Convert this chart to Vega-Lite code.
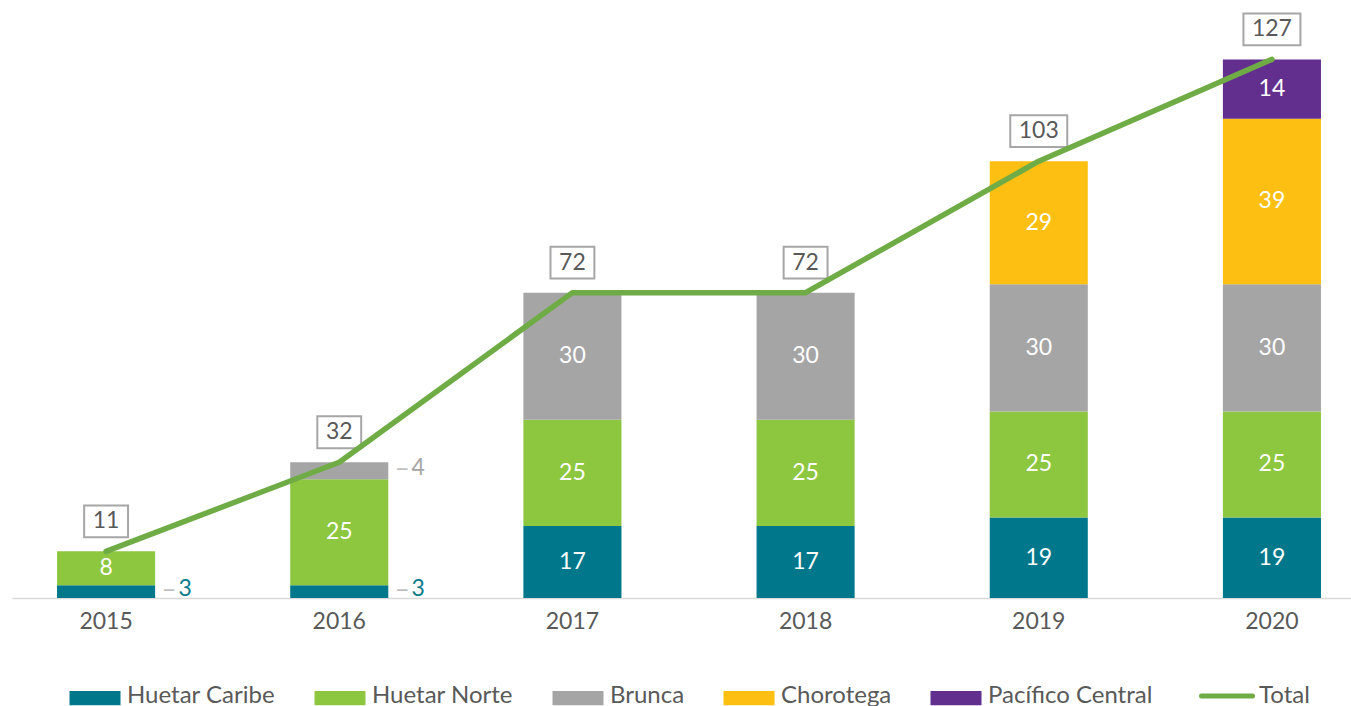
{
  "$schema": "https://vega.github.io/schema/vega-lite/v6.json",
  "width": 1339,
  "height": 598,
  "autosize": {"type": "none"},
  "padding": {"left": 12, "top": 0, "right": 0, "bottom": 108},
  "background": "white",
  "config": {
    "view": {"stroke": null},
    "font": "Lato",
    "axis": {"grid": false}
  },
  "datasets": {
    "bars": [
      {"year": "2015", "region": "Huetar Caribe", "value": 3},
      {"year": "2015", "region": "Huetar Norte", "value": 8},
      {"year": "2016", "region": "Huetar Caribe", "value": 3},
      {"year": "2016", "region": "Huetar Norte", "value": 25},
      {"year": "2016", "region": "Brunca", "value": 4},
      {"year": "2017", "region": "Huetar Caribe", "value": 17},
      {"year": "2017", "region": "Huetar Norte", "value": 25},
      {"year": "2017", "region": "Brunca", "value": 30},
      {"year": "2018", "region": "Huetar Caribe", "value": 17},
      {"year": "2018", "region": "Huetar Norte", "value": 25},
      {"year": "2018", "region": "Brunca", "value": 30},
      {"year": "2019", "region": "Huetar Caribe", "value": 19},
      {"year": "2019", "region": "Huetar Norte", "value": 25},
      {"year": "2019", "region": "Brunca", "value": 30},
      {"year": "2019", "region": "Chorotega", "value": 29},
      {"year": "2020", "region": "Huetar Caribe", "value": 19},
      {"year": "2020", "region": "Huetar Norte", "value": 25},
      {"year": "2020", "region": "Brunca", "value": 30},
      {"year": "2020", "region": "Chorotega", "value": 39},
      {"year": "2020", "region": "Pacífico Central", "value": 14}
    ],
    "totals": [
      {"year": "2015", "total": 11},
      {"year": "2016", "total": 32},
      {"year": "2017", "total": 72},
      {"year": "2018", "total": 72},
      {"year": "2019", "total": 103},
      {"year": "2020", "total": 127}
    ]
  },
  "encoding": {
    "x": {
      "field": "year",
      "type": "nominal",
      "scale": {"paddingInner": 0.5794, "paddingOuter": 0.161, "align": 0.6},
      "axis": {
        "title": null,
        "labelAngle": 0,
        "ticks": false,
        "domainColor": "#D9D9D9",
        "domainWidth": 1.5,
        "labelColor": "#595959",
        "labelFontSize": 23,
        "labelPadding": 12,
        "labelFont": "Lato"
      }
    }
  },
  "resolve": {"scale": {"y": "shared"}},
  "layer": [
    {
      "data": {"name": "bars"},
      "transform": [
        {"calculate": "indexof(['Huetar Caribe','Huetar Norte','Brunca','Chorotega','Pacífico Central'], datum.region)", "as": "ord"},
        {"stack": "value", "groupby": ["year"], "sort": [{"field": "ord", "order": "ascending"}], "as": ["y0", "y1"]},
        {"calculate": "(datum.y0 + datum.y1) / 2", "as": "mid"}
      ],
      "layer": [
        {
          "mark": {"type": "bar"},
          "encoding": {
            "y": {"field": "y1", "type": "quantitative", "scale": {"domain": [0, 141], "nice": false, "zero": true}, "axis": null},
            "y2": {"field": "y0"},
            "color": {
              "field": "region",
              "type": "nominal",
              "scale": {
                "domain": ["Huetar Caribe", "Huetar Norte", "Brunca", "Chorotega", "Pacífico Central", "Total"],
                "range": ["#00778B", "#8DC63F", "#A5A5A5", "#FCBF12", "#632F8E", "#6FAC46"]
              },
              "legend": {
                "orient": "none",
                "direction": "horizontal",
                "legendX": 71,
                "legendY": 684,
                "title": null,
                "padding": 0,
                "symbolSize": 2601,
                "symbolType": "M-1,-0.2H1V0.36H-1Z",
                "labelFontSize": 24,
                "labelColor": "#595959",
                "labelFont": "Lato",
                "labelOffset": 20,
                "columnPadding": 38,
                "labelLimit": 300,
                "symbolOpacity": 1,
                "encode": {
                  "symbols": {
                    "update": {
                      "shape": {"signal": "datum.value === 'Total' ? 'stroke' : 'M-1,-0.2H1V0.36H-1Z'"},
                      "fill": {"signal": "datum.value === 'Total' ? 'transparent' : scale('color', datum.value)"},
                      "stroke": {"signal": "scale('color', datum.value)"},
                      "strokeWidth": {"signal": "datum.value === 'Total' ? 5 : 0"},
                      "strokeCap": {"value": "round"},
                      "opacity": {"value": 1}
                    }
                  }
                }
              }
            }
          }
        },
        {
          "transform": [{"filter": "datum.value >= 5"}],
          "mark": {"type": "text", "color": "white", "fontSize": 23, "font": "Lato", "baseline": "middle"},
          "encoding": {
            "y": {"field": "mid", "type": "quantitative"},
            "text": {"field": "value", "type": "quantitative"}
          }
        },
        {
          "transform": [{"filter": "datum.value < 5"}],
          "mark": {"type": "text", "fontSize": 23, "font": "Lato", "baseline": "middle", "dx": 79, "dy": -3},
          "encoding": {
            "y": {"field": "mid", "type": "quantitative"},
            "text": {"field": "value", "type": "quantitative"},
            "color": {"condition": {"test": "datum.region === 'Brunca'", "value": "#A6A6A6"}, "value": "#0E7C8C"}
          }
        },
        {
          "transform": [{"filter": "datum.value < 5"}],
          "mark": {"type": "text", "fontSize": 26, "font": "Lato", "baseline": "middle", "dx": 63, "dy": -2, "color": "#BFBFBF", "text": "–"},
          "encoding": {
            "y": {"field": "mid", "type": "quantitative"}
          }
        }
      ]
    },
    {
      "data": {"name": "totals"},
      "layer": [
        {
          "mark": {"type": "point", "filled": true, "fill": "white", "stroke": "#A6A6A6", "strokeWidth": 2, "opacity": 1, "yOffset": -30, "size": 3249},
          "encoding": {
            "y": {"field": "total", "type": "quantitative"},
            "shape": {"condition": {"test": "datum.total >= 100", "value": "M-1,-0.56H1V0.56H-1Z"}, "value": "M-0.77,-0.56H0.77V0.56H-0.77Z"}
          }
        },
        {
          "mark": {"type": "line", "strokeWidth": 5.5, "strokeCap": "round", "strokeJoin": "round"},
          "encoding": {
            "y": {"field": "total", "type": "quantitative"},
            "color": {"datum": "Total"}
          }
        },
        {
          "mark": {"type": "text", "fontSize": 23, "font": "Lato", "color": "#595959", "baseline": "middle", "yOffset": -30},
          "encoding": {
            "y": {"field": "total", "type": "quantitative"},
            "text": {"field": "total", "type": "quantitative"}
          }
        }
      ]
    }
  ]
}
